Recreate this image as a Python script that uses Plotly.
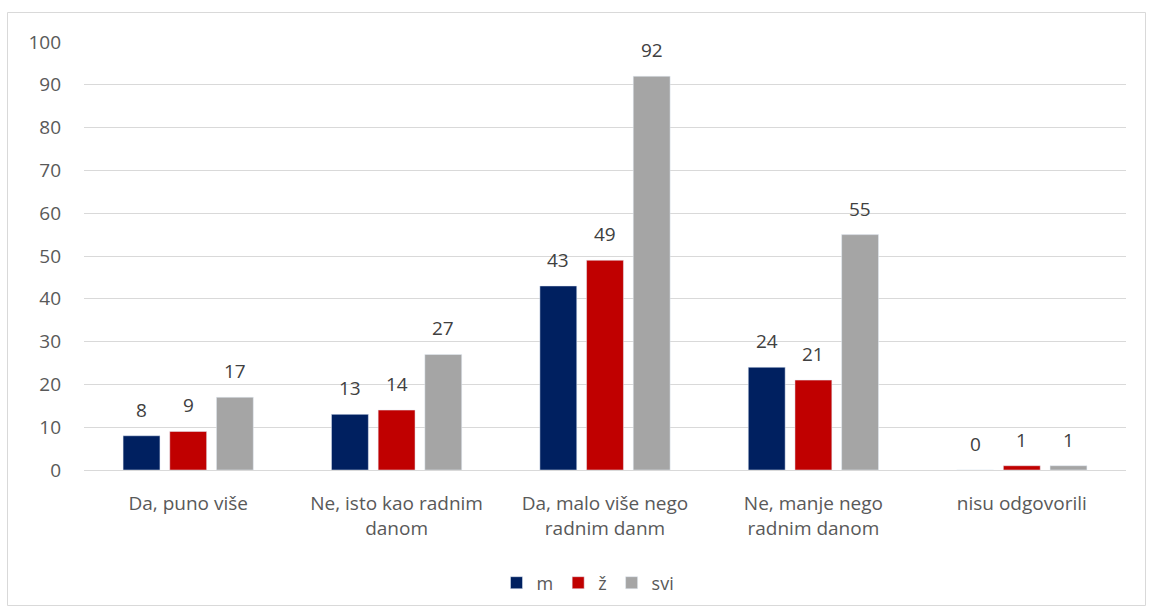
import plotly.graph_objects as go

categories = ["Da, puno više", "Ne, isto kao radnim<br>danom", "Da, malo više nego<br>radnim danm",
              "Ne, manje nego<br>radnim danom", "nisu odgovorili"]
m_vals = [8, 13, 43, 24, 0]
z_vals = [9, 14, 49, 21, 1]
svi_vals = [17, 27, 92, 55, 1]
series_names = ["m", "ž", "svi"]
colors = ["#002060", "#C00000", "#A5A5A5"]

W, H = 1152, 615
L, R, T, B = 84, 26, 42, 145
pw, ph = W - L - R, H - T - B
BARGAP = 0.328

def px2paper_x(px):
    return (px - L) / pw

def px2paper_y(py):
    return (H - B - py) / ph

font_family = "Open Sans, Lato, sans-serif"

fig = go.Figure()
all_vals = [m_vals, z_vals, svi_vals]
for name, vals, col in zip(series_names, all_vals, colors):
    fig.add_trace(go.Bar(name=name, x=categories, y=vals, marker_color=col))

slot = pw / len(categories) * (1 - BARGAP) / len(series_names)
annotations = []
for i, vals in enumerate(all_vals):
    for cat, v in zip(categories, vals):
        annotations.append(dict(
            x=cat, y=v, xref="x", yref="y", text=str(v), showarrow=False,
            yanchor="bottom", xanchor="center", xshift=(i - 1) * slot, yshift=11,
            font=dict(size=19, color="#404040", family=font_family)))

fig.update_layout(
    width=W, height=H,
    margin=dict(l=L, r=R, t=T, b=B),
    paper_bgcolor="white", plot_bgcolor="white",
    barmode="group", bargap=BARGAP, bargroupgap=0.21,
    font=dict(family=font_family, size=19, color="#595959"),
    showlegend=True,
    legend=dict(orientation="h", x=px2paper_x(588), y=px2paper_y(583),
                xanchor="center", yanchor="middle",
                font=dict(size=18, color="#595959"), itemwidth=30,
                traceorder="normal"),
    xaxis=dict(showgrid=False, showline=False, ticks="", ticklabelstandoff=20,
               tickfont=dict(size=19, color="#595959")),
    yaxis=dict(range=[0, 100], dtick=10, showgrid=True, gridcolor="#D9D9D9", gridwidth=1,
               zeroline=True, zerolinecolor="#D9D9D9", zerolinewidth=1,
               showline=False, ticks="", ticklabelstandoff=22,
               tickfont=dict(size=19, color="#595959")),
    annotations=annotations,
    shapes=[dict(type="rect", xref="paper", yref="paper",
                 x0=px2paper_x(7.5), x1=px2paper_x(1145.5),
                 y0=px2paper_y(605.5), y1=px2paper_y(12.5),
                 line=dict(color="#D9D9D9", width=1), fillcolor="rgba(0,0,0,0)",
                 layer="below")],
)

fig.write_html("out.html", config={"displayModeBar": False},
               post_script="document.body.style.margin='0';")
